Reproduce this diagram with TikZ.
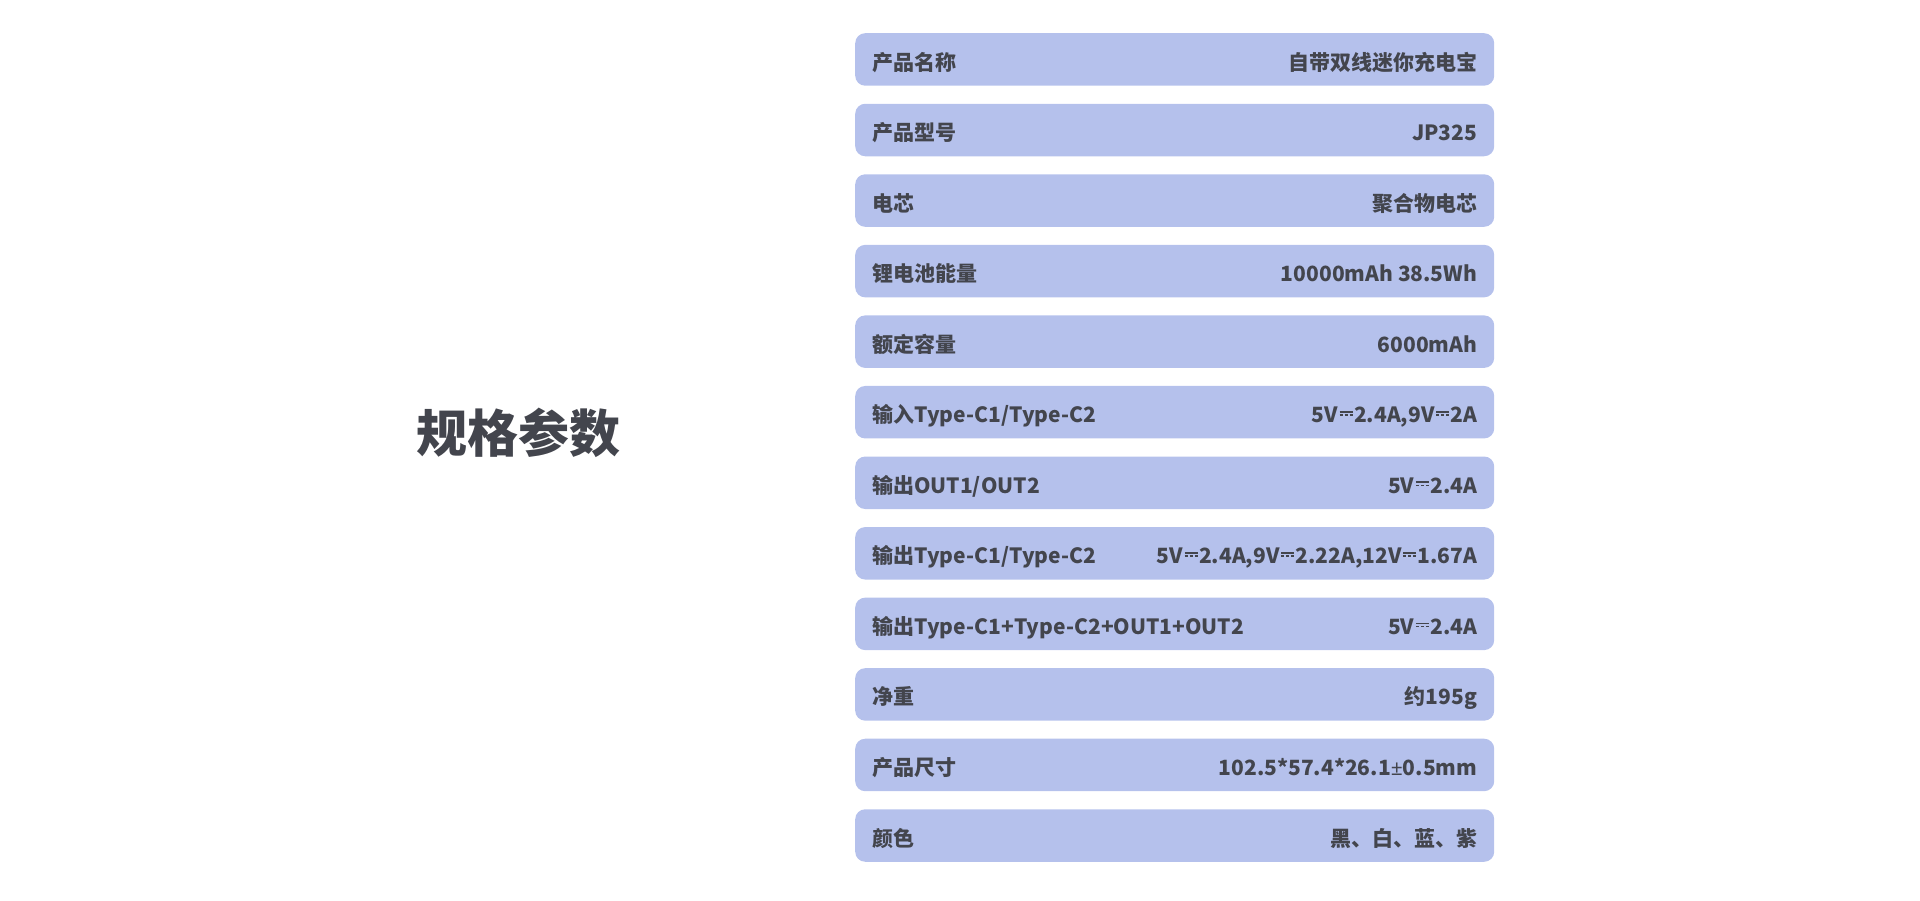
\documentclass[tikz,border=0pt]{standalone}
\usepackage{fontspec}
\setmainfont{Noto Sans CJK SC}
\newfontfamily\latinfont{Noto Sans}
% direct current sign, built from rules (no installed family has it)
\newcommand{\dcsym}{\kern1.5pt\raisebox{7pt}{\vbox{\hrule width 13pt height 1.8pt \kern1.3pt
  \hbox{\vrule width 3pt height 1.8pt\kern2pt\vrule width 3pt height 1.8pt\kern2pt\vrule width 3pt height 1.8pt}}}\kern1.5pt}
\newcommand{\pmsym}{{\latinfont\bfseries ±}}
\usetikzlibrary{positioning}
\definecolor{rowblue}{HTML}{B5C1EC}
\definecolor{inkgray}{HTML}{43454D}

\begin{document}
\begin{tikzpicture}[x=1pt, y=-1pt,
  rowbox/.style={fill=rowblue, rounded corners=10pt, minimum width=639pt, minimum height=52.5pt, inner sep=0pt, anchor=north west},
  rowtext/.style={text=inkgray, font=\fontsize{21}{25}\selectfont\bfseries, inner sep=0pt}]

 \useasboundingbox (0,0) rectangle (1920,900);

 %title
 \node[text=inkgray, font=\fontsize{51}{60}\selectfont\bfseries] (title) at (518,433) {规格参数};

 %rows
 \def\dx{855}
 \def\dy{33}
 \foreach \i/\key/\val in {0/产品名称/自带双线迷你充电宝, 1/产品型号/JP325, 2/电芯/聚合物电芯,
     3/锂电池能量/10000mAh 38.5Wh, 4/额定容量/6000mAh,
     5/输入Type-C1\slash Type-C2/{5V\dcsym2.4A,9V\dcsym2A},
     6/输出OUT1\slash OUT2/5V\dcsym2.4A,
     7/输出Type-C1\slash Type-C2/{5V\dcsym2.4A,9V\dcsym2.22A,12V\dcsym1.67A},
     8/输出Type-C1+Type-C2+OUT1+OUT2/5V\dcsym2.4A, 9/净重/约195g,
     10/产品尺寸/102.5*57.4*26.1\pmsym0.5mm, 11/颜色/黑、白、蓝、紫} {
   \node[rowbox] (row\i) at (\dx, \i*70.55 + \dy) {};
   \node[rowtext, anchor=base west] (key\i) at ([xshift=17pt, yshift=-37pt]row\i.north west) {\key};
   \node[rowtext, anchor=base east] (val\i) at ([xshift=-17pt, yshift=-37pt]row\i.north east) {\val};
 }
\end{tikzpicture}
\end{document}
